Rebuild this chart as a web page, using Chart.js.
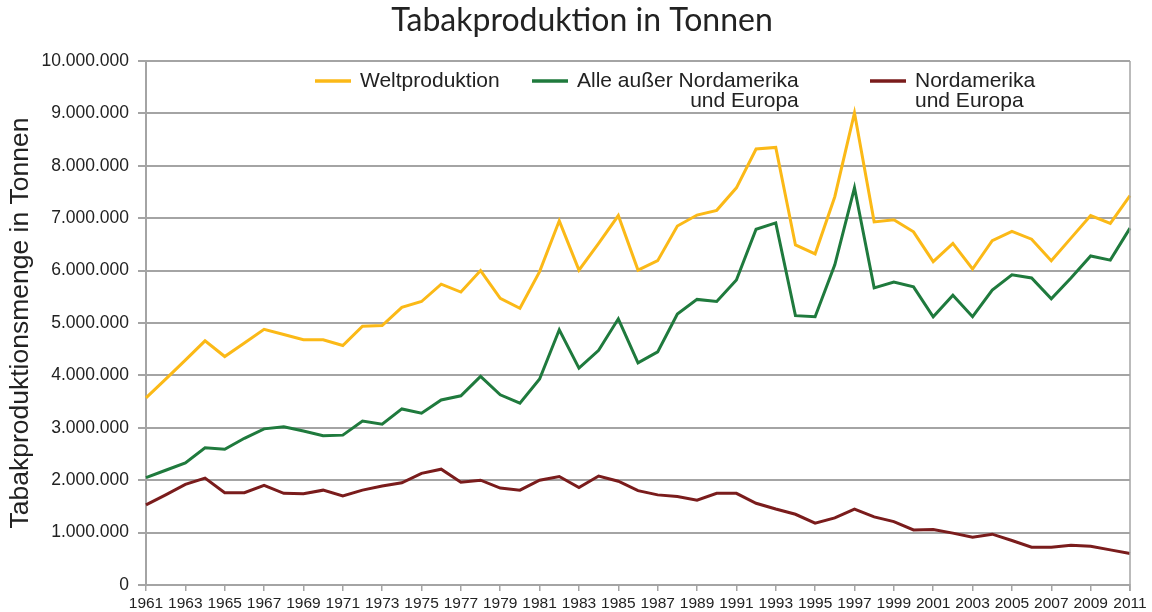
<!DOCTYPE html>
<html lang="de">
<head>
    <meta charset="UTF-8">
    <title>Tabakproduktion in Tonnen</title>
    <script src="https://cdn.jsdelivr.net/npm/chart.js@4.4.1/dist/chart.umd.min.js"></script>
    <style>
        body { margin: 0; background: #fff; }
    </style>
</head>
<body>
    <canvas id="tabakChart" width="1152" height="612"></canvas>

    <script>
        // Jahre (Kategorien)
        const years = [
            '1961','1962','1963','1964','1965','1966','1967','1968','1969','1970',
            '1971','1972','1973','1974','1975','1976','1977','1978','1979','1980',
            '1981','1982','1983','1984','1985','1986','1987','1988','1989','1990',
            '1991','1992','1993','1994','1995','1996','1997','1998','1999','2000',
            '2001','2002','2003','2004','2005','2006','2007','2008','2009','2010',
            '2011'
        ];

        // Weltproduktion (Tonnen)
        const weltproduktion = [
            3570000, 3930000, 4290000, 4660000, 4360000, 4620000, 4880000, 4780000, 4680000, 4680000,
            4570000, 4940000, 4950000, 5300000, 5410000, 5740000, 5590000, 6000000, 5470000, 5280000,
            5980000, 6950000, 6010000, 6520000, 7050000, 6010000, 6190000, 6850000, 7060000, 7150000,
            7580000, 8320000, 8350000, 6490000, 6320000, 7410000, 9010000, 6930000, 6970000, 6740000,
            6170000, 6520000, 6030000, 6570000, 6750000, 6600000, 6190000, 6620000, 7050000, 6900000,
            7430000
        ];

        // Alle außer Nordamerika und Europa
        const ohneNaEu = [
            2050000, 2190000, 2330000, 2620000, 2590000, 2800000, 2980000, 3020000, 2940000, 2850000,
            2860000, 3130000, 3070000, 3360000, 3280000, 3530000, 3610000, 3980000, 3630000, 3470000,
            3930000, 4870000, 4140000, 4480000, 5080000, 4240000, 4450000, 5170000, 5450000, 5410000,
            5820000, 6790000, 6910000, 5140000, 5120000, 6110000, 7580000, 5670000, 5780000, 5690000,
            5120000, 5530000, 5120000, 5630000, 5920000, 5860000, 5460000, 5860000, 6280000, 6200000,
            6810000
        ];

        // Nordamerika und Europa
        const naEu = [
            1530000, 1720000, 1920000, 2040000, 1760000, 1760000, 1900000, 1750000, 1740000, 1810000,
            1700000, 1810000, 1890000, 1950000, 2130000, 2210000, 1960000, 2000000, 1850000, 1810000,
            2000000, 2070000, 1860000, 2080000, 1980000, 1800000, 1720000, 1690000, 1620000, 1750000,
            1750000, 1560000, 1450000, 1350000, 1180000, 1280000, 1450000, 1300000, 1210000, 1050000,
            1060000, 990000, 910000, 970000, 850000, 720000, 720000, 760000, 740000, 670000,
            600000
        ];

        const gridGray = '#a4a4a4';
        const textColor = '#222';
        const sans = "'Liberation Sans', Arial, sans-serif";
        const colWelt = '#fbb917';
        const colOhne = '#1f7a3d';
        const colNaEu = '#7a1c1c';

        // 10.000.000 style
        function formatDE(v) {
            return String(Math.round(v)).replace(/\B(?=(\d{3})+(?!\d))/g, '.');
        }

        // Legende im Diagramm, mit zweizeiligen Einträgen
        const legendItems = [
            { color: colWelt, x: 315, lines: ['Weltproduktion'], align: 'left' },
            { color: colOhne, x: 532, lines: ['Alle außer Nordamerika', 'und Europa'], align: 'right' },
            { color: colNaEu, x: 870, lines: ['Nordamerika', 'und Europa'], align: 'left' }
        ];

        const decorations = {
            id: 'decorations',
            afterDraw(chart) {
                const ctx = chart.ctx;
                const a = chart.chartArea;
                ctx.save();

                // Titel (leicht rechts der Mitte wie im Original)
                ctx.font = '32px Lato, sans-serif';
                ctx.fillStyle = textColor;
                ctx.textAlign = 'center';
                ctx.textBaseline = 'alphabetic';
                ctx.fillText('Tabakproduktion in Tonnen', 582, 31);

                // Legende
                const y0 = 81;
                const lh = 20.5;
                ctx.font = '21px ' + sans;
                ctx.textBaseline = 'middle';
                legendItems.forEach(item => {
                    ctx.strokeStyle = item.color;
                    ctx.lineWidth = 3.5;
                    ctx.beginPath();
                    ctx.moveTo(item.x, y0);
                    ctx.lineTo(item.x + 36, y0);
                    ctx.stroke();
                    const tx = item.x + 45;
                    const w0 = ctx.measureText(item.lines[0]).width;
                    item.lines.forEach((line, i) => {
                        if (item.align === 'right') {
                            ctx.textAlign = 'right';
                            ctx.fillText(line, tx + w0, y0 + i * lh);
                        } else {
                            ctx.textAlign = 'left';
                            ctx.fillText(line, tx, y0 + i * lh);
                        }
                    });
                });

                // rechter Rand der Zeichenfläche
                ctx.strokeStyle = gridGray;
                ctx.lineWidth = 1.5;
                ctx.beginPath();
                ctx.moveTo(a.right, a.top);
                ctx.lineTo(a.right, a.bottom + 6);
                ctx.stroke();
                ctx.restore();
            }
        };

        const ctx = document.getElementById('tabakChart').getContext('2d');
        const chart = new Chart(ctx, {
            type: 'line',
            data: {
                labels: years,
                datasets: [
                    { label: 'Weltproduktion', data: weltproduktion, borderColor: colWelt },
                    { label: 'Alle außer Nordamerika und Europa', data: ohneNaEu, borderColor: colOhne },
                    { label: 'Nordamerika und Europa', data: naEu, borderColor: colNaEu }
                ]
            },
            options: {
                responsive: false,
                animation: false,
                devicePixelRatio: 1,
                layout: { padding: { left: 0, right: 22, top: 61, bottom: 0 } },
                elements: {
                    line: { borderWidth: 3, tension: 0 },
                    point: { radius: 0 }
                },
                plugins: {
                    legend: { display: false },
                    tooltip: { enabled: false },
                    title: { display: false }
                },
                scales: {
                    x: {
                        offset: false,
                        afterFit(scale) { scale.height = 27; },
                        grid: {
                            drawOnChartArea: false,
                            color: gridGray,
                            lineWidth: 1.5,
                            tickLength: 6
                        },
                        border: { color: gridGray, width: 1.5 },
                        ticks: {
                            autoSkip: false,
                            maxRotation: 0,
                            color: textColor,
                            padding: 3,
                            font: { family: sans, size: 15.5 },
                            callback: function (value, index) {
                                return index % 2 === 0 ? years[index] : null;
                            }
                        }
                    },
                    y: {
                        min: 0,
                        max: 10000000,
                        afterFit(scale) { scale.width = 146; },
                        grid: {
                            color: gridGray,
                            lineWidth: 2,
                            tickLength: 8
                        },
                        border: { color: gridGray, width: 2 },
                        ticks: {
                            stepSize: 1000000,
                            color: textColor,
                            padding: 9,
                            font: { family: sans, size: 17.5 },
                            callback: v => formatDE(v)
                        },
                        title: {
                            display: true,
                            text: 'Tabakproduktionsmenge in Tonnen',
                            color: textColor,
                            font: { family: sans, size: 26.5 },
                            padding: { top: 5, bottom: 0 }
                        }
                    }
                }
            },
            plugins: [decorations]
        });
    </script>
</body>
</html>
